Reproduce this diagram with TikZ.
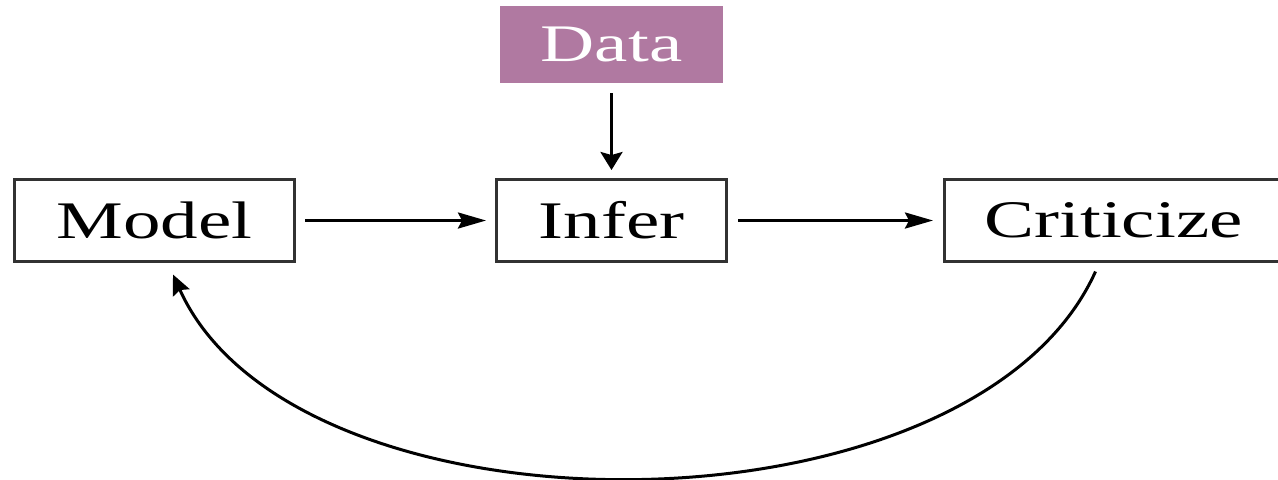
\documentclass[tikz,border=0pt]{standalone}
\usepackage{fontspec}
\usepackage{graphicx}
\setmainfont{Liberation Serif}
\usetikzlibrary{arrows.meta}
\definecolor{datafill}{RGB}{176,121,161}
\definecolor{boxline}{RGB}{50,50,50}
\newcommand{\wide}[1]{\scalebox{1.42}[1]{#1}}
\tikzset{
  stagebox/.style={draw=boxline, line width=1.5pt, fill=white, inner sep=0pt,
    minimum height=41pt, font=\fontsize{26.4}{30}\selectfont},
  databox/.style={fill=datafill, text=white, inner sep=0pt,
    minimum width=111.5pt, minimum height=38.5pt, font=\fontsize{26.4}{30}\selectfont},
  flow/.style={line width=1.5pt, black},
  harrow/.style={flow, -{Stealth[length=14pt, width=8pt, inset=2pt]}},
  varrow/.style={flow, -{Stealth[length=9pt, width=11pt, inset=1.5pt]}},
  carrow/.style={flow, -{Stealth[length=10pt, width=9pt, inset=1.5pt]}}
}
\begin{document}
\begin{tikzpicture}[x=0.5pt, y=-0.5pt]
  \useasboundingbox[fill=white] (0,0) rectangle (1278,479);

  % pipeline stages
  \node[stagebox, minimum width=140pt] (model) at (154.5,220.5) {\wide{Model}};
  \node[stagebox, minimum width=115pt] (infer) at (611.5,220.5) {\wide{Infer}};
  \node[stagebox, minimum width=169pt] (crit) at (1113.5,220.5) {\wide{Criticize}};

  % data input
  \node[databox] (data) at (611.5,44.5) {\wide{Data}};

  % forward flow
  \draw[varrow, shorten <=5pt, shorten >=4pt] (data.south) -- (infer.north);
  \draw[harrow, shorten <=4.5pt, shorten >=4.5pt] (model.east) -- (infer.west);
  \draw[harrow, shorten <=5pt, shorten >=5pt] (infer.east) -- (crit.west);

  % feedback loop from criticism back to the model
  \draw[carrow]
    ([xshift=-9pt, yshift=-4.25pt]crit.south)
    .. controls +(-123,273) and +(123,273) ..
    ([xshift=9.25pt, yshift=-5.75pt]model.south);
\end{tikzpicture}
\end{document}
